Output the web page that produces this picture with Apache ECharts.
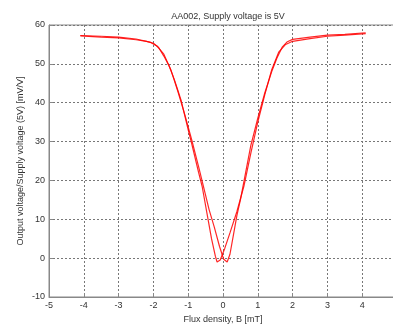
<!DOCTYPE html>
<html><head><meta charset="utf-8">
<script src="https://cdn.jsdelivr.net/npm/echarts@6/dist/echarts.min.js"></script>
<style>html,body{margin:0;padding:0;background:#fff;overflow:hidden}#c{width:393px;height:329px}</style>
</head><body><div id="c"></div>
<script>
var titleText = 'AA002, Supply voltage is 5V';
var xName = 'Flux density, B [mT]';
var yName = 'Output voltage/Supply voltage (5V) [mV/V]';
var xTicks = [-5,-4,-3,-2,-1,0,1,2,3,4,5];
var yTicks = [-10,0,10,20,30,40,50,60];

// sweep from negative to positive field
var sweepUpB = [-4.1,-3.5,-3,-2.5,-2.2,-2,-1.85,-1.7,-1.55,-1.4,-1.2,-1.0,-0.9,-0.7,-0.6,-0.45,-0.33,-0.22,-0.17,-0.08,0.05,0.2,0.4,0.6,0.8,1.0,1.2,1.4,1.6,1.8,2,2.5,3,3.5,4.1];
var sweepUpV = [57.2,56.9,56.7,56.2,55.8,55.3,54.2,52,49.5,46,40.5,33,29.5,22,18.5,11,5,0.5,-1,-0.5,2.5,6.5,12,18.5,27,35,42,48.5,53,55,55.8,56.5,57.1,57.4,57.8];
// sweep from positive to negative field
var sweepDownB = [4.1,3.5,3,2.5,2,1.85,1.7,1.55,1.4,1.2,1.0,0.8,0.65,0.5,0.4,0.3,0.2,0.12,0.02,-0.1,-0.25,-0.4,-0.55,-0.7,-0.9,-1.1,-1.3,-1.5,-1.7,-1.9,-2.1,-2.5,-3,-3.5,-4.1];
var sweepDownV = [58,57.6,57.4,56.9,56.3,55.7,54.3,51.5,48,42.5,36,29,22,15,11,6,1,-1,-0.3,3,8,12.5,18,23.5,30.5,37,43,48.5,52.5,54.6,55.6,56.4,56.9,57.1,57.3];

function pairs(a,b){return a.map(function(v,i){return [v,b[i]];});}
var chart = echarts.init(document.getElementById('c'));
var font = 'Liberation Sans, Arial, sans-serif';
chart.setOption({
  animation:false,
  backgroundColor:'#fff',
  title:{text:titleText,left:223,top:7,textAlign:'center',textStyle:{fontSize:9,fontWeight:'normal',color:'#333',fontFamily:font}},
  grid:{left:49,width:348,top:25,height:272,containLabel:false,outerBoundsMode:'none',show:true,borderColor:'#888',borderWidth:1,backgroundColor:'transparent'},
  xAxis:{type:'value',min:-5,max:5,interval:1,name:xName,nameLocation:'middle',nameGap:18,nameMoveOverlap:false,
    nameTextStyle:{fontSize:9,color:'#333',fontFamily:font},
    axisLine:{show:true,onZero:false,lineStyle:{color:'#888'}},
    axisTick:{show:true,inside:true,length:4,lineStyle:{color:'#888'}},
    axisLabel:{fontSize:9,color:'#333',margin:4,fontFamily:font,formatter:function(v){return String(v);}},
    splitLine:{show:true,lineStyle:{color:'#777',type:[2,2],width:1}}},
  yAxis:{type:'value',min:-10,max:60,interval:10,name:yName,nameLocation:'middle',nameGap:24,nameMoveOverlap:false,
    nameTextStyle:{fontSize:9,color:'#333',fontFamily:font},
    axisLine:{show:true,onZero:false,lineStyle:{color:'#888'}},
    axisTick:{show:true,inside:true,length:4,lineStyle:{color:'#888'}},
    axisLabel:{fontSize:9,color:'#333',margin:4,fontFamily:font},
    splitLine:{show:true,lineStyle:{color:'#777',type:[2,2],width:1}}},
  series:[
    {type:'line',data:pairs(sweepUpB,sweepUpV),showSymbol:false,lineStyle:{color:'#ff0000',width:1.2,opacity:0.85},z:3},
    {type:'line',data:pairs(sweepDownB,sweepDownV),showSymbol:false,lineStyle:{color:'#ff0000',width:1.2,opacity:0.85},z:3}
  ]
});
</script></body></html>
